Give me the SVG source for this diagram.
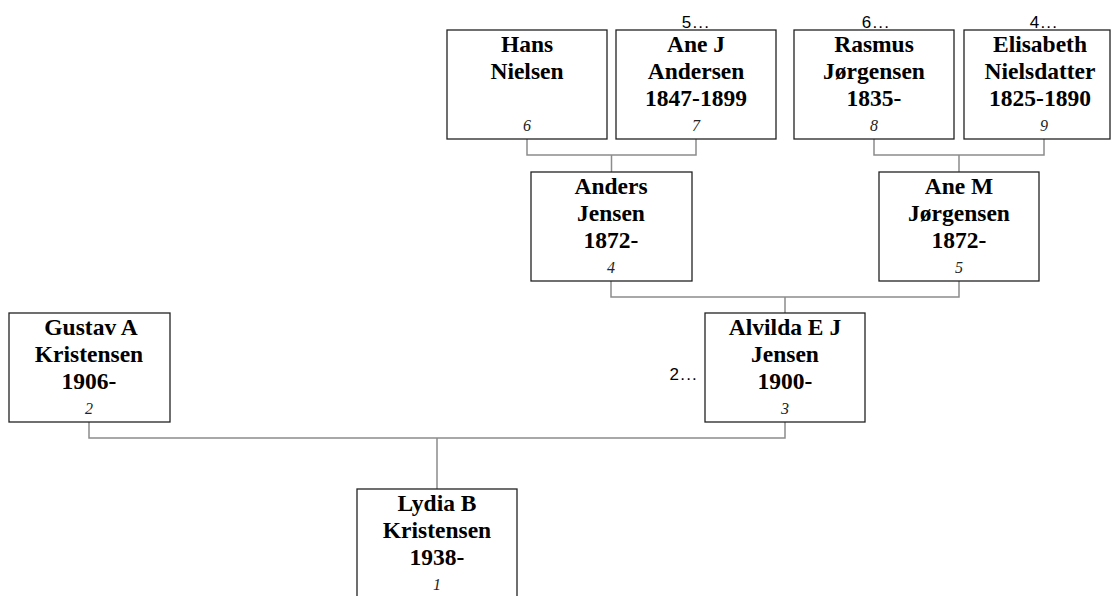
<svg xmlns="http://www.w3.org/2000/svg" width="1112" height="596" viewBox="0 0 1112 596">
<style>
.box{fill:#fff;stroke:#222;stroke-width:1.3}
.nm{font-family:"Liberation Serif","Times New Roman",serif;font-weight:bold;font-size:23.5px;text-anchor:middle;fill:#000}
.no{font-family:"Liberation Serif","Times New Roman",serif;font-style:italic;font-size:16px;text-anchor:middle;fill:#222}
.more{font-family:"Liberation Sans",Arial,sans-serif;font-size:17px;letter-spacing:1.2px;fill:#000}
.con{fill:none;stroke:#8c8c8c;stroke-width:1.5}
</style>
<rect width="1112" height="596" fill="#fff"/>
<g id="connectors">
<path class="con" d="M527 139V155H696V139M611.5 155V172"/>
<path class="con" d="M874 139V155H1044V139M959 155V172"/>
<path class="con" d="M611 281V297H959V281M785 297V313"/>
<path class="con" d="M89 422V438H785V422M437 438V489"/>
</g>
<g id="n6">
<rect class="box" x="447" y="30" width="160" height="109"/>
<text class="nm" x="527" y="52">Hans</text>
<text class="nm" x="527" y="79">Nielsen</text>
<text class="no" x="527" y="131">6</text>
</g>
<g id="n7">
<rect class="box" x="616" y="30" width="160" height="109"/>
<text class="more" x="696" y="28" text-anchor="middle">5...</text>
<text class="nm" x="696" y="52">Ane J</text>
<text class="nm" x="696" y="79">Andersen</text>
<text class="nm" x="696" y="106">1847-1899</text>
<text class="no" x="696" y="131">7</text>
</g>
<g id="n8">
<rect class="box" x="794" y="30" width="160" height="109"/>
<text class="more" x="876" y="28" text-anchor="middle">6...</text>
<text class="nm" x="874" y="52">Rasmus</text>
<text class="nm" x="874" y="79">Jørgensen</text>
<text class="nm" x="874" y="106">1835-</text>
<text class="no" x="874" y="131">8</text>
</g>
<g id="n9">
<rect class="box" x="964" y="30" width="146" height="109"/>
<text class="more" x="1044" y="28" text-anchor="middle">4...</text>
<text class="nm" x="1040" y="52">Elisabeth</text>
<text class="nm" x="1040" y="79">Nielsdatter</text>
<text class="nm" x="1040" y="106">1825-1890</text>
<text class="no" x="1044" y="131">9</text>
</g>
<g id="n4">
<rect class="box" x="531" y="172" width="161" height="109"/>
<text class="nm" x="611" y="194">Anders</text>
<text class="nm" x="611" y="221">Jensen</text>
<text class="nm" x="611" y="248">1872-</text>
<text class="no" x="611" y="273">4</text>
</g>
<g id="n5">
<rect class="box" x="879" y="172" width="160" height="109"/>
<text class="nm" x="959" y="194">Ane M</text>
<text class="nm" x="959" y="221">Jørgensen</text>
<text class="nm" x="959" y="248">1872-</text>
<text class="no" x="959" y="273">5</text>
</g>
<g id="n3">
<rect class="box" x="705" y="313" width="160" height="109"/>
<text class="more" x="698" y="380" text-anchor="end">2...</text>
<text class="nm" x="785" y="335">Alvilda E J</text>
<text class="nm" x="785" y="362">Jensen</text>
<text class="nm" x="785" y="389">1900-</text>
<text class="no" x="785" y="414">3</text>
</g>
<g id="n2">
<rect class="box" x="9" y="313" width="161" height="109"/>
<text class="nm" x="91" y="335">Gustav A</text>
<text class="nm" x="89" y="362">Kristensen</text>
<text class="nm" x="89" y="389">1906-</text>
<text class="no" x="89" y="414">2</text>
</g>
<g id="n1">
<rect class="box" x="357" y="489" width="160" height="109"/>
<text class="nm" x="437" y="511">Lydia B</text>
<text class="nm" x="437" y="538">Kristensen</text>
<text class="nm" x="437" y="565">1938-</text>
<text class="no" x="437" y="590">1</text>
</g>
</svg>
